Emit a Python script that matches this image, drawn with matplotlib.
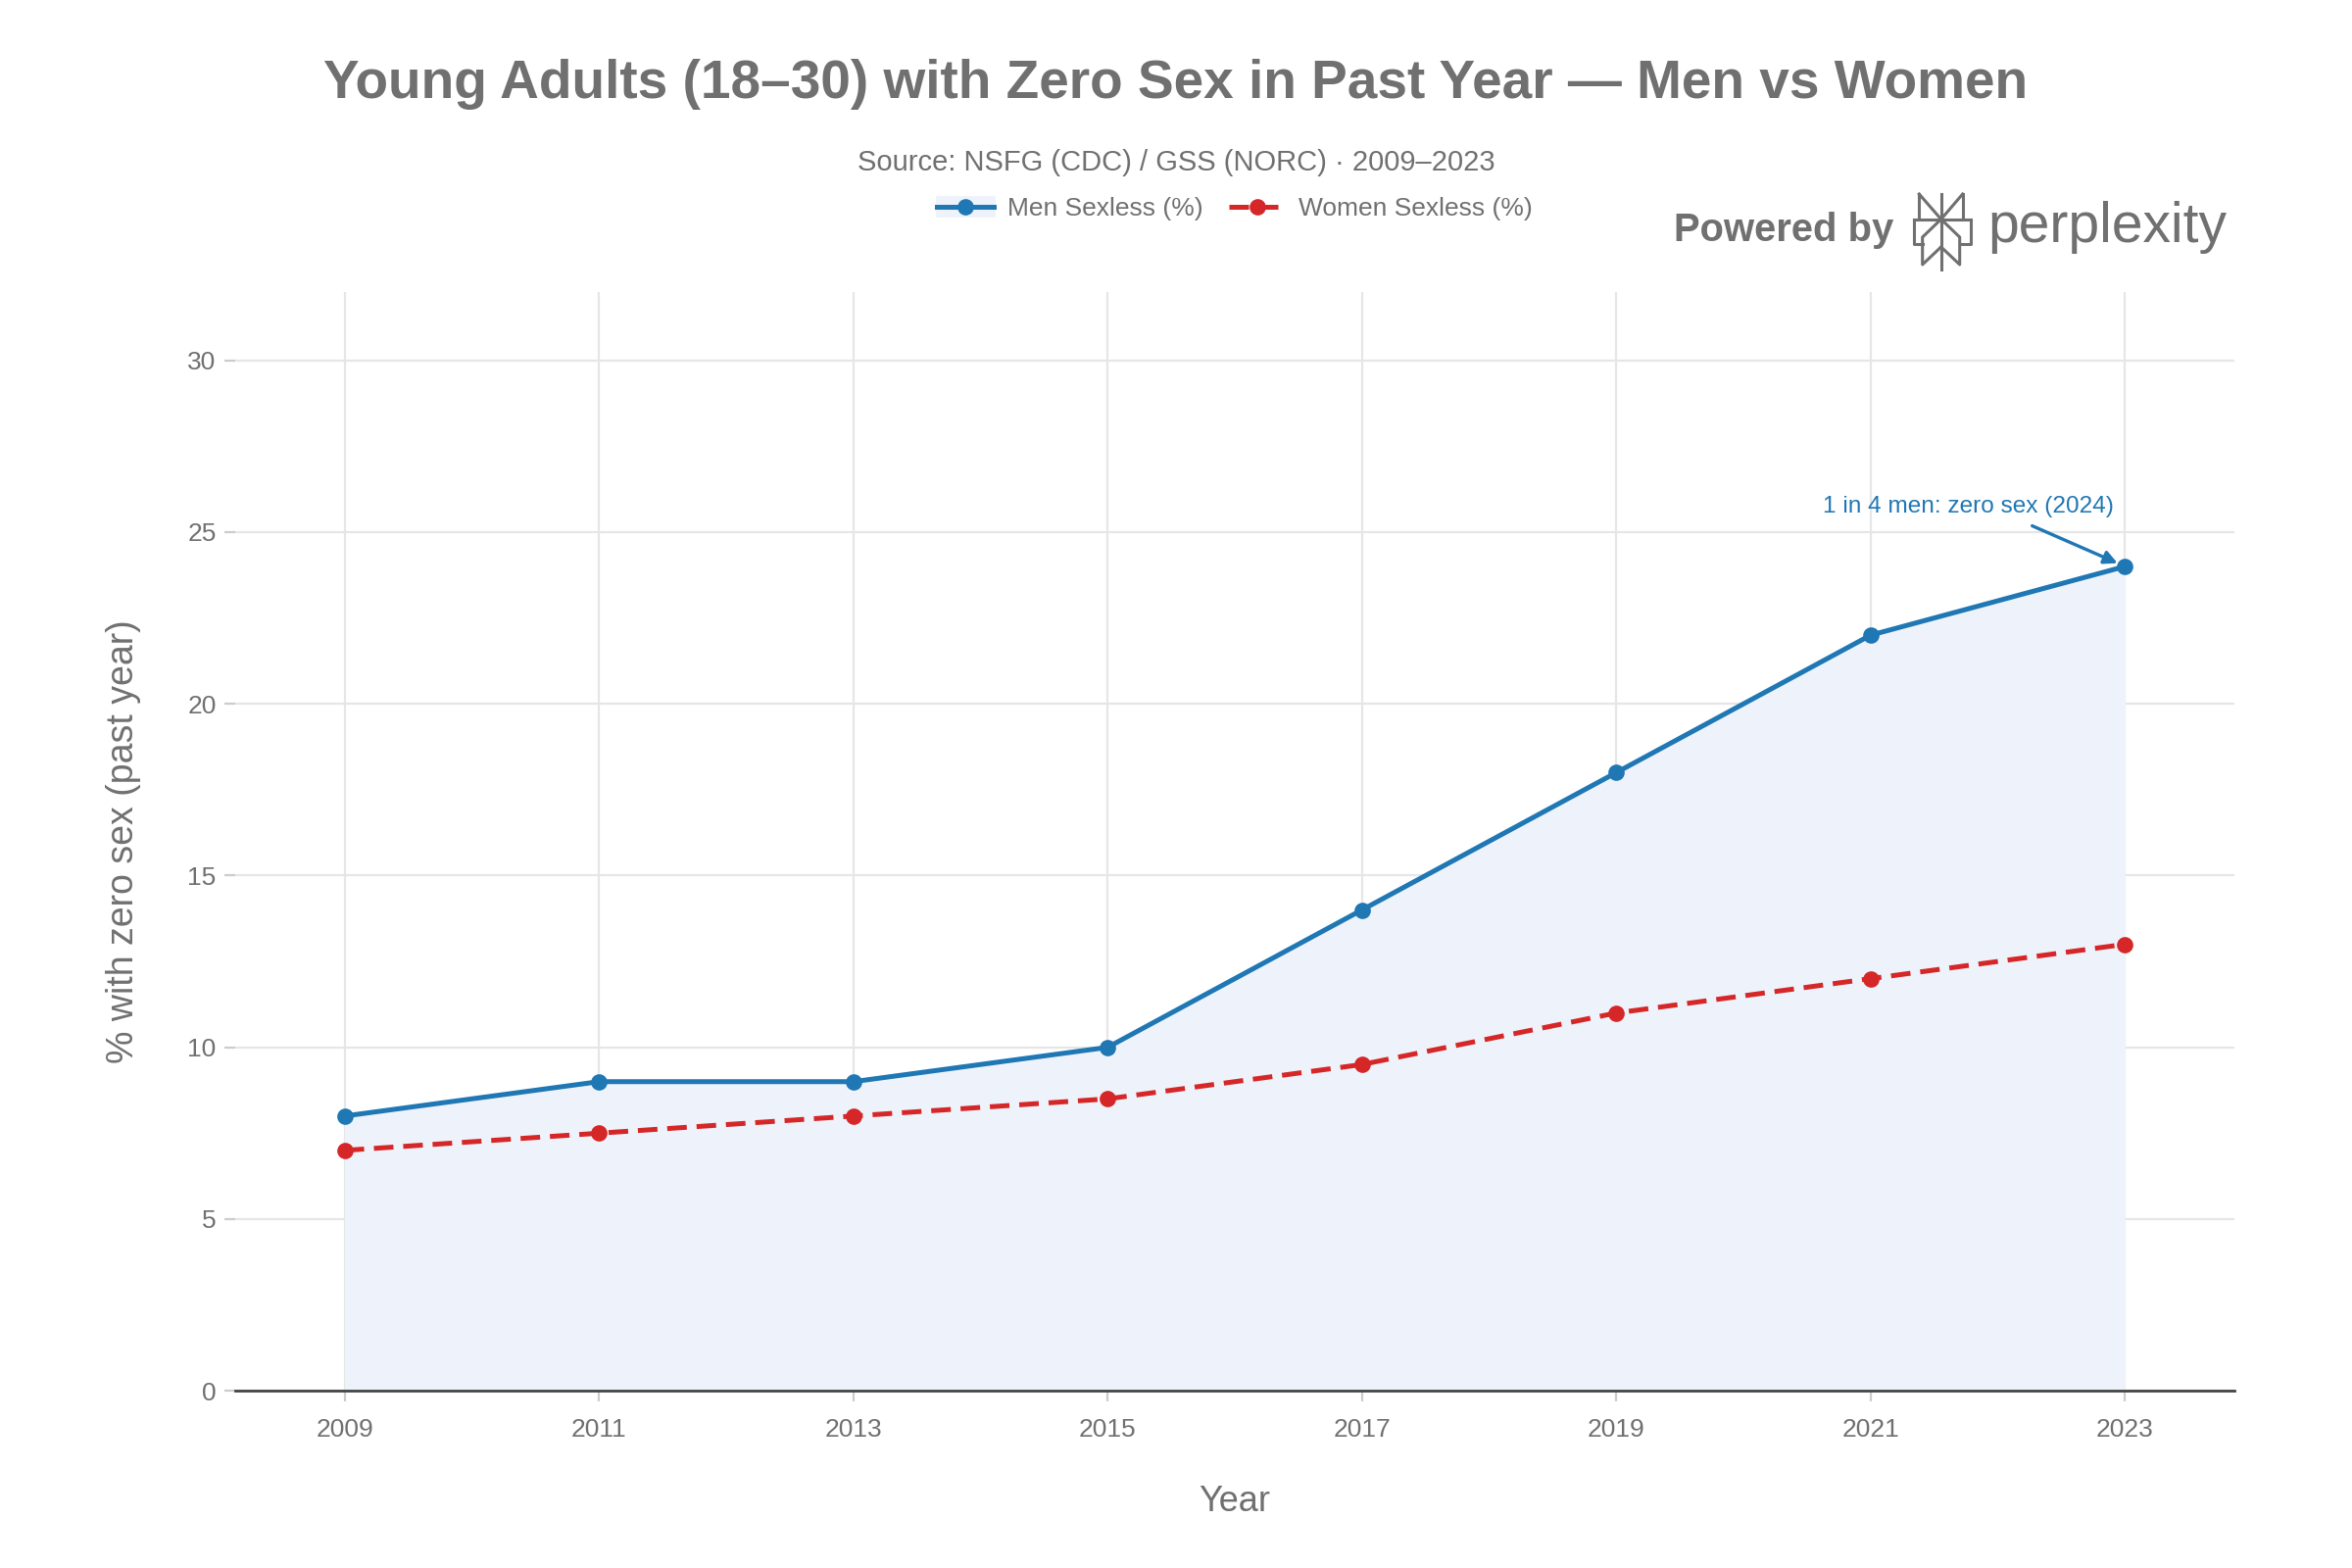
import matplotlib
matplotlib.use('Agg')
import matplotlib.pyplot as plt
from matplotlib.lines import Line2D
from matplotlib.patches import Patch

plt.rcParams['font.family'] = ['Liberation Sans', 'DejaVu Sans']

# data
years = [2009, 2011, 2013, 2015, 2017, 2019, 2021, 2023]
men_sexless = [8, 9, 9, 10, 14, 18, 22, 24]
women_sexless = [7, 7.5, 8, 8.5, 9.5, 11, 12, 13]
y_ticks = [0, 5, 10, 15, 20, 25, 30]

blue = '#1f77b4'
red = '#d62728'
fill = '#eef3fb'
gray = '#707070'
dash = (0, (4, 2))

fig = plt.figure(figsize=(12, 8), dpi=200)
ax = fig.add_axes([0.1, 0.113, 0.85, 0.701])

# area under the men line
ax.fill_between(years, 0, men_sexless, color=fill, zorder=1, lw=0)
ax.plot(years, men_sexless, color=blue, lw=1.8, marker='o', ms=5, zorder=3)
ax.plot(years, women_sexless, color=red, lw=1.8, ls=dash, marker='o', ms=5, zorder=3)

ax.set_xlim(2008.14, 2023.86)
ax.set_ylim(0, 32)
ax.set_xticks(years)
ax.set_yticks(y_ticks)
ax.grid(True, color='#e6e6e6', lw=0.8, zorder=0)
ax.set_axisbelow(True)
for s in ['top', 'right', 'left']:
    ax.spines[s].set_visible(False)
ax.spines['bottom'].set_color('#444444')
ax.spines['bottom'].set_linewidth(1.0)
ax.spines['bottom'].set_zorder(4)
ax.tick_params(axis='both', colors='#cccccc', labelcolor=gray, labelsize=9.5, length=4, width=0.8)
ax.tick_params(axis='y', pad=3)
ax.tick_params(axis='x', pad=6)

ax.set_xlabel('Year', fontsize=13, color=gray, labelpad=16)
ax.set_ylabel('% with zero sex (past year)', fontsize=13.5, color=gray, labelpad=17)

# annotation for the last point
ax.annotate('1 in 4 men: zero sex (2024)', xy=(2023, 24), xytext=(2021.77, 25.75),
            ha='center', va='center', fontsize=8.8, color=blue,
            arrowprops=dict(arrowstyle='-|>', color=blue, lw=1.2, mutation_scale=10,
                            relpos=(0.65, 0), shrinkA=3, shrinkB=3))

fig.text(0.5, 0.946, 'Young Adults (18\u201330) with Zero Sex in Past Year \u2014 Men vs Women',
         ha='center', va='center', fontsize=19.8, fontweight='bold', color=gray)
fig.text(0.5, 0.896, 'Source: NSFG (CDC) / GSS (NORC) \u00b7 2009\u20132023',
         ha='center', va='center', fontsize=10.5, color=gray)

handles = [(Patch(color=fill), Line2D([], [], color=blue, lw=1.8, marker='o', ms=5)),
           Line2D([], [], color=red, lw=1.8, ls=dash, marker='o', ms=5)]
fig.legend(handles, ['Men Sexless (%)', 'Women Sexless (%)'], loc='center',
           bbox_to_anchor=(0.525, 0.867), ncol=2, frameon=False, fontsize=9.5,
           labelcolor=gray, handlelength=2.2, columnspacing=1.0, handletextpad=0.5)

# "Powered by perplexity" badge
fig.text(0.805, 0.853, 'Powered by', ha='right', va='center', fontsize=14.4,
         fontweight='bold', color=gray)
fig.text(0.845, 0.855, 'perplexity', ha='left', va='center', fontsize=20.5, color=gray)

cx, lx, rx, olx, orx = 1980.7, 1958.3, 2002.7, 1953.3, 2010.7
ilx, irx = 1961.7, 1999.7
top, boxtop, boxbot, imid, ibot, bot, cdip = 198, 223.7, 248.7, 242, 270, 274.7, 252
segs = [
    [(cx, top), (cx, bot)],
    [(lx, top), (lx, boxtop)], [(rx, top), (rx, boxtop)],
    [(lx, top), (cx, boxtop)], [(rx, top), (cx, boxtop)],
    [(olx, boxtop), (orx, boxtop)],
    [(olx, boxtop), (olx, boxbot), (ilx, boxbot)],
    [(orx, boxtop), (orx, boxbot), (irx, boxbot)],
    [(cx, boxtop), (ilx, imid), (ilx, ibot), (cx, cdip)],
    [(cx, boxtop), (irx, imid), (irx, ibot), (cx, cdip)],
]
for seg in segs:
    xs = [p[0] / 2400 for p in seg]
    ys = [1 - p[1] / 1600 for p in seg]
    fig.add_artist(Line2D(xs, ys, color=gray, lw=1.1, transform=fig.transFigure))

fig.savefig('out.png', dpi=200)
